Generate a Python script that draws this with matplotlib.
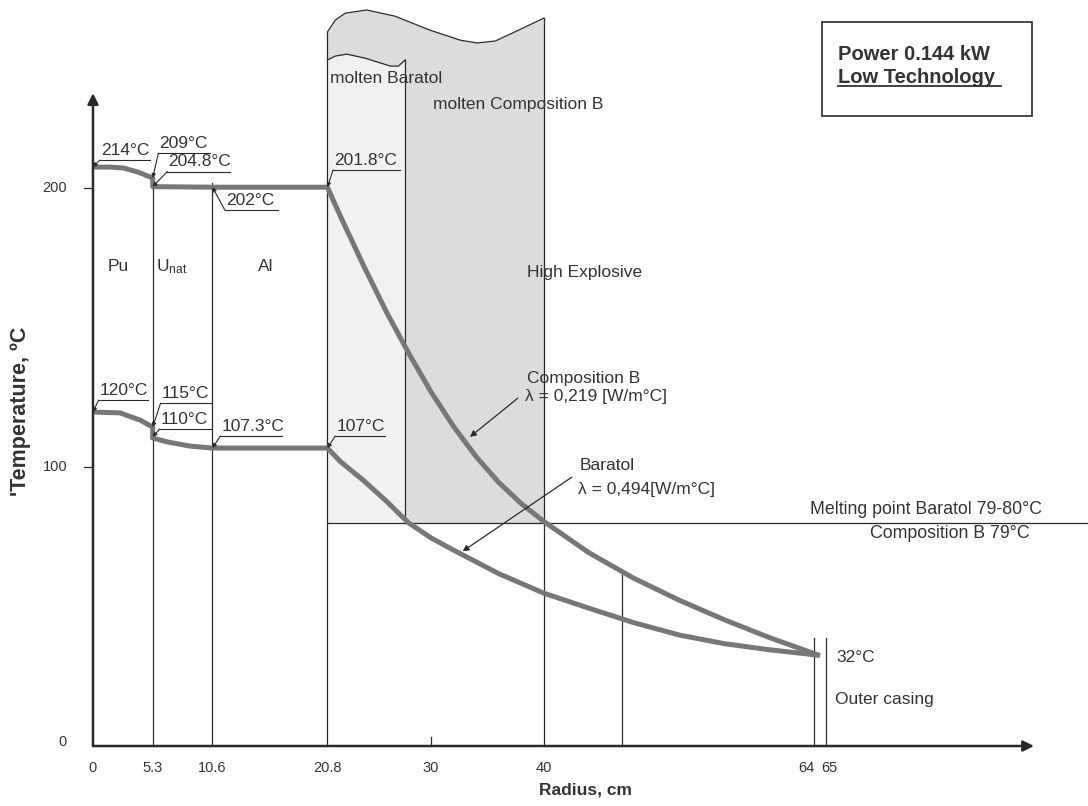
import matplotlib
matplotlib.use("Agg")
import matplotlib.pyplot as plt
from matplotlib.patches import Rectangle

plt.rcParams['font.family'] = ['Liberation Sans', 'DejaVu Sans']

# ---- data (radius in cm, temperature in degC) ----
# upper curve: Composition B filling
comp_b_r = [0, 1.5, 2.7, 4.0, 5.3, 5.3, 10.6, 20.8, 22, 24, 26, 28, 30, 32,
            34, 36, 38, 40, 44, 48, 52, 56, 60, 64.5]
comp_b_T = [207.5, 207.5, 207.2, 205.7, 203.6, 200.5, 200.3, 200.3, 189.5,
            172.3, 155.9, 140.9, 126.9, 114.5, 103.7, 94.5, 86.9, 80.5, 69.3,
            60.1, 52.3, 45.3, 38.9, 32.4]

# lower curve: Baratol filling
baratol_r = [0, 2.4, 4.2, 5.3, 5.3, 6.6, 8.6, 10.6, 20.8, 22, 24, 26, 28,
             30, 32, 34, 36, 40, 44, 48, 52, 56, 60, 64.5]
baratol_T = [119.7, 119.4, 116.8, 114.3, 110.4, 109.0, 107.5, 106.8, 106.8,
             101.8, 95.2, 87.9, 80.0, 74.6, 70.2, 66.0, 61.8, 54.8, 49.4, 44.2,
             39.8, 36.7, 34.5, 32.5]

# layer boundaries (radius) and how high each boundary line is drawn
bound_r = [5.3, 10.6, 20.8, 40.0, 46.9, 64.0, 65.0]
bound_top = [203.6, 201.8, 255.9, 260.9, 62.5, 38.7, 38.7]

melt_T = 80          # melting point line
baratol_edge = 27.7  # edge of molten Baratol zone

# wavy tops of the molten zones
outer_wave_r = [20.8, 21.5, 22.4, 24.3, 26.8, 29.9, 32.6, 34.1, 35.7, 37.4, 40.0]
outer_wave_T = [255.9, 260.2, 262.7, 263.8, 261.6, 256.6, 253.0, 252.0, 252.7, 255.9, 260.9]
inner_wave_r = [20.8, 21.5, 22.5, 24.1, 26.4, 27.1, 27.7]
inner_wave_T = [245.9, 247.3, 248.0, 246.6, 243.7, 243.7, 245.9]

# value labels: text, point on curve, start of underline, underline length
tags = [
    ("214°C", (0, 207.5), (0.6, 210.0), 4.5),
    ("209°C", (5.3, 203.6), (5.8, 212.5), 4.6),
    ("204.8°C", (5.3, 200.5), (6.6, 205.9), 5.6),
    ("202°C", (10.6, 200.3), (11.7, 192.1), 4.7),
    ("201.8°C", (20.8, 200.3), (21.3, 206.5), 5.9),
    ("120°C", (0, 119.7), (0.5, 124.0), 4.4),
    ("115°C", (5.3, 114.3), (6.0, 122.9), 4.5),
    ("110°C", (5.3, 110.8), (5.9, 113.6), 4.6),
    ("107.3°C", (10.6, 106.8), (11.3, 111.1), 5.5),
    ("107°C", (20.8, 106.8), (21.5, 111.1), 4.4),
]

x_ticks = [0, 5.3, 10.6, 20.8, 30, 40]
x_tick_labels = ["0", "5.3", "10.6", "20.8", "30", "40"]
y_ticks = [0, 100, 200]

# ---- figure: one axes filling the canvas, drawn by hand ----
fig = plt.figure(figsize=(10.88, 8.06), dpi=100)
ax = fig.add_axes([0, 0, 1, 1])
ax.set_xlim(-8.25, 88.29)
ax.set_ylim(-21.5, 267.4)
ax.axis('off')

line_c = '#2a2a2a'
curve_c = '#777777'
text_c = '#333333'

# shaded molten zones
ax.fill_between(outer_wave_r, melt_T, outer_wave_T, color='#dcdcdc', lw=0, zorder=0)
ax.fill_between(inner_wave_r, melt_T, inner_wave_T, color='#f1f1f1', lw=0, zorder=0)
ax.plot(outer_wave_r, outer_wave_T, color=line_c, lw=0.9, zorder=2)
ax.plot(inner_wave_r, inner_wave_T, color=line_c, lw=0.9, zorder=2)

# boundary lines
for r, top in zip(bound_r, bound_top):
    ax.plot([r, r], [0, top], color=line_c, lw=0.9, zorder=2)
ax.plot([baratol_edge, baratol_edge], [melt_T, inner_wave_T[-1]], color=line_c, lw=0.9, zorder=2)
ax.plot([20.8, 88.3], [melt_T, melt_T], color=line_c, lw=0.9, zorder=2)

# temperature profiles
for r, T in [(comp_b_r, comp_b_T), (baratol_r, baratol_T)]:
    ax.plot(r, T, color=curve_c, lw=3.6, solid_capstyle='butt',
            solid_joinstyle='round', zorder=3)

# axes with arrows
arrow = dict(arrowstyle='-|>', mutation_scale=16, lw=1.8, color=line_c, shrinkA=0, shrinkB=0)
ax.annotate('', xy=(83.5, 0), xytext=(0, 0), arrowprops=arrow, zorder=4)
ax.annotate('', xy=(0, 234), xytext=(0, 0), arrowprops=arrow, zorder=4)

tick_fs = 10.5
for r, lab in zip(x_ticks, x_tick_labels):
    ax.text(r, -7.9, lab, ha='center', va='center', fontsize=tick_fs, color=text_c)
ax.plot([30, 30], [0, 3.2], color=line_c, lw=0.9)
ax.text(64.0, -7.9, "64", ha='right', va='center', fontsize=tick_fs, color=text_c)
ax.text(64.6, -7.9, "65", ha='left', va='center', fontsize=tick_fs, color=text_c)
for t in y_ticks:
    ax.text(-2.3, t + (1.4 if t == 0 else 0), str(t), ha='right', va='center',
            fontsize=tick_fs, color=text_c)
    if t > 0:
        ax.plot([-0.8, 0], [t, t], color=line_c, lw=0.9)

ax.text(43.7, -15.8, "Radius, cm", ha='center', va='center', fontsize=12.5,
        fontweight='bold', color=text_c)
ax.text(-6.4, 120.0, "'Temperature, ºC", ha='center', va='center', rotation=90,
        fontsize=15.5, fontweight='bold', color=text_c)

# value tags with leader lines
fs = 12.5
for label, pt, start, length in tags:
    ax.annotate('', xy=pt, xytext=start,
                arrowprops=dict(arrowstyle='-|>', mutation_scale=6, lw=0.8,
                                color=line_c, shrinkA=0, shrinkB=0), zorder=5)
    ax.plot([start[0], start[0] + length], [start[1], start[1]], color=line_c, lw=0.8, zorder=5)
    ax.text(start[0] + 0.1, start[1] + 0.8, label, ha='left', va='bottom',
            fontsize=fs, color=text_c, zorder=5)

# region labels
ax.text(2.2, 172.0, "Pu", ha='center', va='center', fontsize=fs, color=text_c)
ax.text(7.0, 172.0, r"$\mathregular{U_{nat}}$", ha='center', va='center', fontsize=fs, color=text_c)
ax.text(15.3, 172.0, "Al", ha='center', va='center', fontsize=fs, color=text_c)
ax.text(21.0, 239.4, "molten Baratol", ha='left', va='center', fontsize=fs, color=text_c)
ax.text(30.2, 230.1, "molten Composition B", ha='left', va='center', fontsize=fs, color=text_c)
ax.text(38.5, 169.9, "High Explosive", ha='left', va='center', fontsize=fs, color=text_c)

ax.text(38.5, 131.9, "Composition B", ha='left', va='center', fontsize=fs, color=text_c)
ax.text(38.3, 125.4, "λ = 0,219 [W/m°C]", ha='left', va='center', fontsize=fs, color=text_c)
ax.annotate('', xy=(33.45, 110.8), xytext=(37.7, 124.7),
            arrowprops=dict(arrowstyle='-|>', mutation_scale=9, lw=0.9, color=line_c,
                            shrinkA=0, shrinkB=0), zorder=5)
ax.text(43.2, 100.4, "Baratol", ha='left', va='center', fontsize=fs, color=text_c)
ax.text(43.0, 91.8, "λ = 0,494[W/m°C]", ha='left', va='center', fontsize=fs, color=text_c)
ax.annotate('', xy=(32.8, 69.8), xytext=(42.5, 96.4),
            arrowprops=dict(arrowstyle='-|>', mutation_scale=9, lw=0.9, color=line_c,
                            shrinkA=0, shrinkB=0), zorder=5)

ax.text(84.2, 84.9, "Melting point Baratol 79-80°C", ha='right', va='center', fontsize=12.8, color=text_c)
ax.text(83.1, 76.3, "Composition B 79°C", ha='right', va='center', fontsize=12.8, color=text_c)
ax.text(66.0, 31.9, "32°C", ha='left', va='center', fontsize=fs, color=text_c)
ax.text(65.8, 16.5, "Outer casing", ha='left', va='center', fontsize=fs, color=text_c)

# info box
ax.add_patch(Rectangle((64.7, 225.8), 18.6, 33.7, fill=False, ec=line_c, lw=1.2))
ax.text(66.1, 247.7, "Power 0.144 kW", ha='left', va='center', fontsize=14.5,
        fontweight='bold', color=text_c)
ax.text(66.1, 239.8, "Low Technology", ha='left', va='center', fontsize=14.5,
        fontweight='bold', color=text_c)
ax.plot([66.1, 80.6], [236.4, 236.4], color=text_c, lw=1.3)

fig.savefig("out.png", dpi=100)
